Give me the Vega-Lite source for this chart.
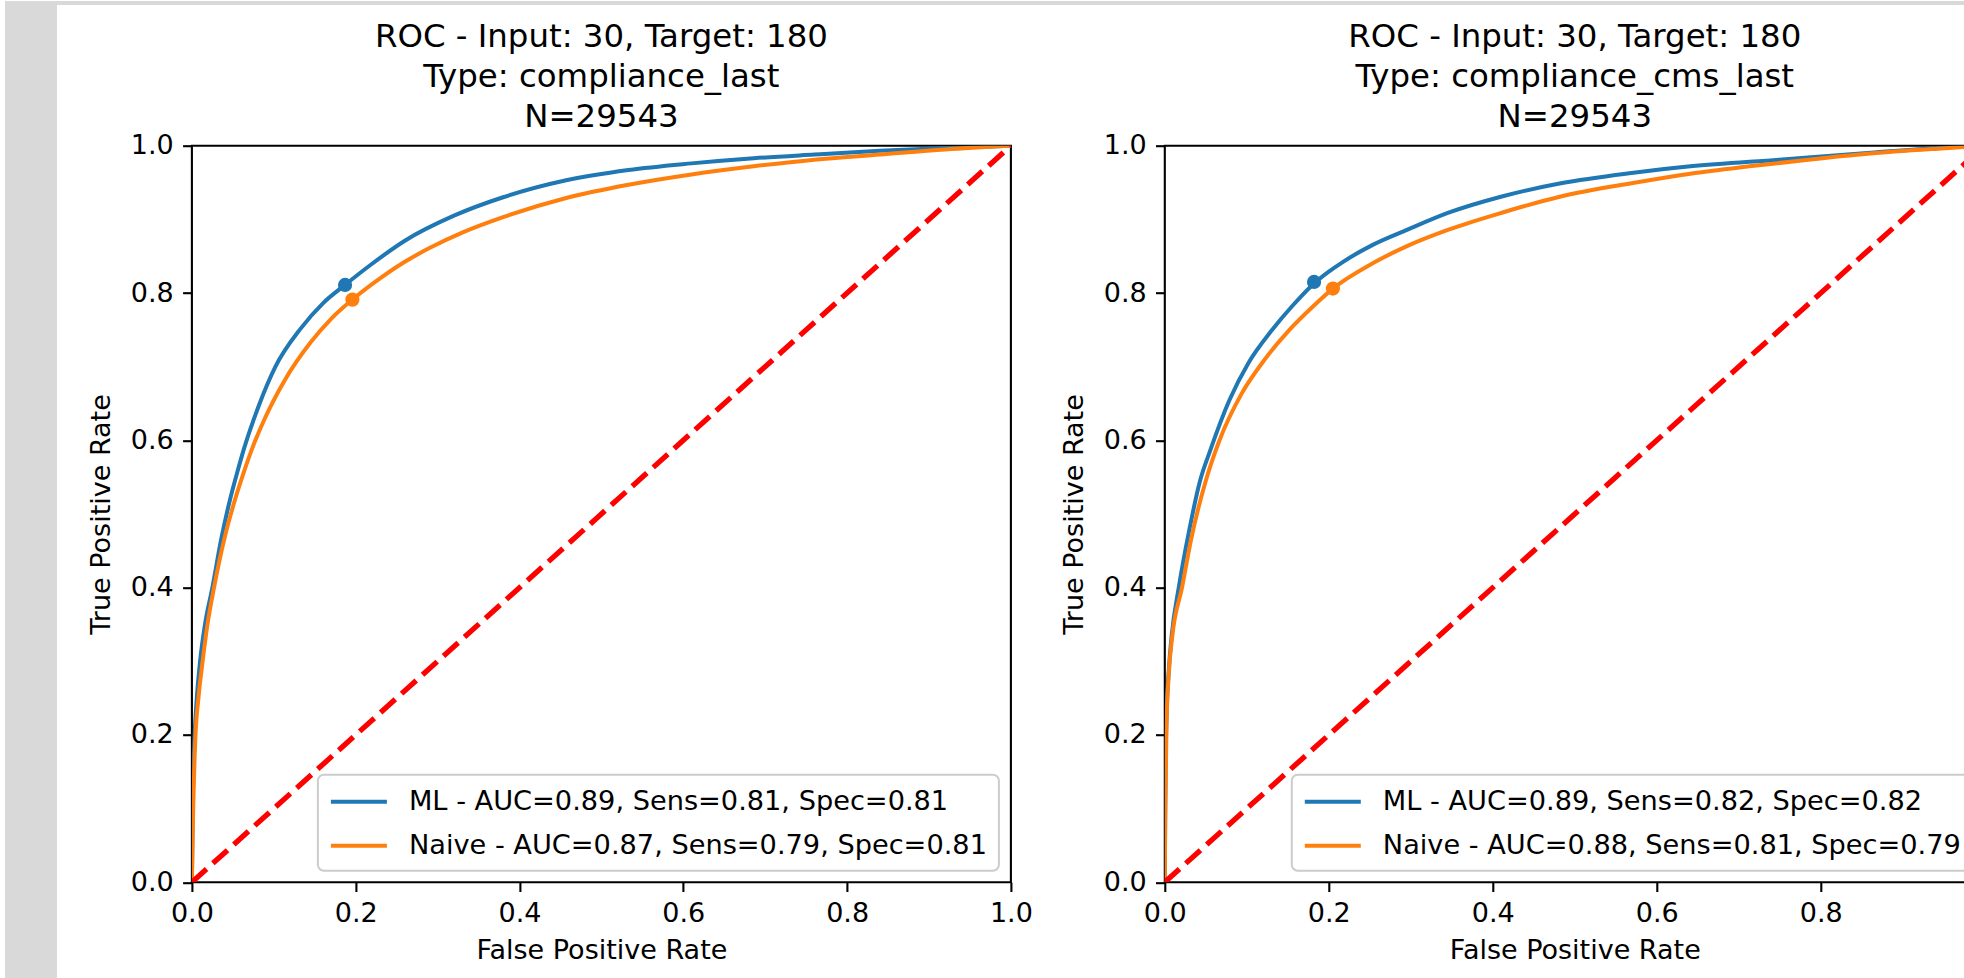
{
  "$schema": "https://vega.github.io/schema/vega-lite/v6.json",
  "padding": {"left": 5, "top": 0, "right": 0, "bottom": 0},
  "background": "white",
  "spacing": -6.5,
  "resolve": {"scale": {"color": "independent", "fill": "independent", "x": "independent", "y": "independent"}, "legend": {"color": "independent", "fill": "independent"}},
  "hconcat": [
    {
      "width": 52, "height": 978,
      "data": {"values": [{"a": 1}]},
      "mark": {"type": "point", "opacity": 0},
      "view": {"fill": "#d9d9d9", "stroke": null}
    },
    {
      "spacing": 13.7,
      "resolve": {"scale": {"color": "independent", "fill": "independent", "x": "independent", "y": "independent"}, "legend": {"color": "independent", "fill": "independent"}},
      "vconcat": [
        {
          "width": 1918, "height": 4,
          "data": {"values": [{"a": 1}]},
          "mark": {"type": "point", "opacity": 0},
          "view": {"fill": "#d9d9d9", "stroke": null}
        },
        {
          "spacing": 24.9,
          "resolve": {"scale": {"color": "independent", "fill": "independent", "x": "independent", "y": "independent"}, "legend": {"color": "independent", "fill": "independent"}},
          "hconcat": [
            {
              "width": 0.7, "height": 1,
              "data": {"values": [{"a": 1}]},
              "mark": {"type": "point", "opacity": 0},
              "view": {"fill": null, "stroke": null}
            },
            {
              "width": 819, "height": 736.5,
              "title": {"text": ["ROC - Input: 30, Target: 180", "Type: compliance_last", "N=29543"]},
              "encoding": {
                "x": {"field": "fpr", "type": "quantitative", "scale": {"domain": [0, 1], "nice": false}, "axis": {"title": "False Positive Rate", "values": [0, 0.2, 0.4, 0.6, 0.8, 1.0], "format": ".1f"}},
                "y": {"field": "tpr", "type": "quantitative", "scale": {"domain": [0, 1], "nice": false}, "axis": {"title": "True Positive Rate", "values": [0, 0.2, 0.4, 0.6, 0.8, 1.0], "format": ".1f"}}
              },
              "layer": [
                {
                  "data": {"name": "curves"},
                  "transform": [{"filter": "datum.p == 'L'"}],
                  "mark": {"type": "line", "strokeWidth": 4, "clip": true, "interpolate": "monotone"},
                  "encoding": {
                    "color": {"field": "m", "type": "nominal", "scale": {"domain": ["ML", "Naive"], "range": ["#1f77b4", "#ff7f0e"]},
                      "legend": {"labelExpr": "datum.label == 'ML' ? 'ML - AUC=0.89, Sens=0.81, Spec=0.81' : 'Naive - AUC=0.87, Sens=0.79, Spec=0.81'"}}
                  }
                },
                {
                  "data": {"name": "ops"},
                  "transform": [{"filter": "datum.p == 'L'"}],
                  "mark": {"type": "point", "filled": true, "size": 201, "opacity": 1},
                  "encoding": {
                    "fill": {"field": "m", "type": "nominal", "scale": {"domain": ["ML", "Naive"], "range": ["#1f77b4", "#ff7f0e"]}, "legend": null}
                  }
                },
                {
                  "data": {"name": "diag"},
                  "mark": {"type": "line", "color": "#ff0000", "strokeWidth": 5.3, "strokeDash": [19.7, 8.5], "clip": true},
                  "encoding": {}
                }
              ]
            },
            {
              "width": 820, "height": 736.5,
              "title": {"text": ["ROC - Input: 30, Target: 180", "Type: compliance_cms_last", "N=29543"]},
              "encoding": {
                "x": {"field": "fpr", "type": "quantitative", "scale": {"domain": [0, 1], "nice": false}, "axis": {"title": "False Positive Rate", "values": [0, 0.2, 0.4, 0.6, 0.8, 1.0], "format": ".1f"}},
                "y": {"field": "tpr", "type": "quantitative", "scale": {"domain": [0, 1], "nice": false}, "axis": {"title": "True Positive Rate", "values": [0, 0.2, 0.4, 0.6, 0.8, 1.0], "format": ".1f"}}
              },
              "layer": [
                {
                  "data": {"name": "curves"},
                  "transform": [{"filter": "datum.p == 'R'"}],
                  "mark": {"type": "line", "strokeWidth": 4, "clip": true, "interpolate": "monotone"},
                  "encoding": {
                    "color": {"field": "m", "type": "nominal", "scale": {"domain": ["ML", "Naive"], "range": ["#1f77b4", "#ff7f0e"]},
                      "legend": {"labelExpr": "datum.label == 'ML' ? 'ML - AUC=0.89, Sens=0.82, Spec=0.82' : 'Naive - AUC=0.88, Sens=0.81, Spec=0.79'"}}
                  }
                },
                {
                  "data": {"name": "ops"},
                  "transform": [{"filter": "datum.p == 'R'"}],
                  "mark": {"type": "point", "filled": true, "size": 201, "opacity": 1},
                  "encoding": {
                    "fill": {"field": "m", "type": "nominal", "scale": {"domain": ["ML", "Naive"], "range": ["#1f77b4", "#ff7f0e"]}, "legend": null}
                  }
                },
                {
                  "data": {"name": "diag"},
                  "mark": {"type": "line", "color": "#ff0000", "strokeWidth": 5.3, "strokeDash": [19.7, 8.5], "clip": true},
                  "encoding": {}
                }
              ]
            }
          ]
        }
      ]
    }
  ],
  "datasets": {
    "diag": [{"fpr": 0, "tpr": 0}, {"fpr": 1, "tpr": 1}],
    "ops": [
      {"p": "L", "m": "ML", "fpr": 0.187, "tpr": 0.811},
      {"p": "L", "m": "Naive", "fpr": 0.196, "tpr": 0.791},
      {"p": "R", "m": "ML", "fpr": 0.182, "tpr": 0.815},
      {"p": "R", "m": "Naive", "fpr": 0.205, "tpr": 0.806}
    ],
    "curves": [
      {"p": "L", "m": "ML", "fpr": 0, "tpr": 0},
      {"p": "L", "m": "ML", "fpr": 0.001, "tpr": 0.1},
      {"p": "L", "m": "ML", "fpr": 0.003, "tpr": 0.19},
      {"p": "L", "m": "ML", "fpr": 0.006, "tpr": 0.25},
      {"p": "L", "m": "ML", "fpr": 0.01, "tpr": 0.3},
      {"p": "L", "m": "ML", "fpr": 0.016, "tpr": 0.35},
      {"p": "L", "m": "ML", "fpr": 0.025, "tpr": 0.4},
      {"p": "L", "m": "ML", "fpr": 0.036, "tpr": 0.467},
      {"p": "L", "m": "ML", "fpr": 0.046, "tpr": 0.517},
      {"p": "L", "m": "ML", "fpr": 0.055, "tpr": 0.555},
      {"p": "L", "m": "ML", "fpr": 0.064, "tpr": 0.59},
      {"p": "L", "m": "ML", "fpr": 0.082, "tpr": 0.648},
      {"p": "L", "m": "ML", "fpr": 0.102, "tpr": 0.7},
      {"p": "L", "m": "ML", "fpr": 0.133, "tpr": 0.752},
      {"p": "L", "m": "ML", "fpr": 0.16, "tpr": 0.786},
      {"p": "L", "m": "ML", "fpr": 0.187, "tpr": 0.811},
      {"p": "L", "m": "ML", "fpr": 0.218, "tpr": 0.838},
      {"p": "L", "m": "ML", "fpr": 0.26, "tpr": 0.871},
      {"p": "L", "m": "ML", "fpr": 0.32, "tpr": 0.905},
      {"p": "L", "m": "ML", "fpr": 0.38, "tpr": 0.93},
      {"p": "L", "m": "ML", "fpr": 0.457, "tpr": 0.953},
      {"p": "L", "m": "ML", "fpr": 0.533, "tpr": 0.967},
      {"p": "L", "m": "ML", "fpr": 0.61, "tpr": 0.976},
      {"p": "L", "m": "ML", "fpr": 0.686, "tpr": 0.983},
      {"p": "L", "m": "ML", "fpr": 0.76, "tpr": 0.988},
      {"p": "L", "m": "ML", "fpr": 0.84, "tpr": 0.993},
      {"p": "L", "m": "ML", "fpr": 0.92, "tpr": 0.997},
      {"p": "L", "m": "ML", "fpr": 1, "tpr": 1},
      {"p": "L", "m": "Naive", "fpr": 0, "tpr": 0},
      {"p": "L", "m": "Naive", "fpr": 0.001, "tpr": 0.07},
      {"p": "L", "m": "Naive", "fpr": 0.004, "tpr": 0.19},
      {"p": "L", "m": "Naive", "fpr": 0.008, "tpr": 0.25},
      {"p": "L", "m": "Naive", "fpr": 0.012, "tpr": 0.29},
      {"p": "L", "m": "Naive", "fpr": 0.019, "tpr": 0.35},
      {"p": "L", "m": "Naive", "fpr": 0.027, "tpr": 0.4},
      {"p": "L", "m": "Naive", "fpr": 0.04, "tpr": 0.468},
      {"p": "L", "m": "Naive", "fpr": 0.052, "tpr": 0.517},
      {"p": "L", "m": "Naive", "fpr": 0.062, "tpr": 0.552},
      {"p": "L", "m": "Naive", "fpr": 0.074, "tpr": 0.59},
      {"p": "L", "m": "Naive", "fpr": 0.09, "tpr": 0.632},
      {"p": "L", "m": "Naive", "fpr": 0.1125, "tpr": 0.68},
      {"p": "L", "m": "Naive", "fpr": 0.145, "tpr": 0.733},
      {"p": "L", "m": "Naive", "fpr": 0.17, "tpr": 0.765},
      {"p": "L", "m": "Naive", "fpr": 0.196, "tpr": 0.791},
      {"p": "L", "m": "Naive", "fpr": 0.225, "tpr": 0.816},
      {"p": "L", "m": "Naive", "fpr": 0.258, "tpr": 0.841},
      {"p": "L", "m": "Naive", "fpr": 0.29, "tpr": 0.861},
      {"p": "L", "m": "Naive", "fpr": 0.33, "tpr": 0.882},
      {"p": "L", "m": "Naive", "fpr": 0.38, "tpr": 0.903},
      {"p": "L", "m": "Naive", "fpr": 0.457, "tpr": 0.929},
      {"p": "L", "m": "Naive", "fpr": 0.533, "tpr": 0.947},
      {"p": "L", "m": "Naive", "fpr": 0.61, "tpr": 0.961},
      {"p": "L", "m": "Naive", "fpr": 0.686, "tpr": 0.972},
      {"p": "L", "m": "Naive", "fpr": 0.76, "tpr": 0.981},
      {"p": "L", "m": "Naive", "fpr": 0.84, "tpr": 0.988},
      {"p": "L", "m": "Naive", "fpr": 0.92, "tpr": 0.995},
      {"p": "L", "m": "Naive", "fpr": 1, "tpr": 1},
      {"p": "R", "m": "ML", "fpr": 0, "tpr": 0},
      {"p": "R", "m": "ML", "fpr": 0.0005, "tpr": 0.1},
      {"p": "R", "m": "ML", "fpr": 0.002, "tpr": 0.22},
      {"p": "R", "m": "ML", "fpr": 0.005, "tpr": 0.29},
      {"p": "R", "m": "ML", "fpr": 0.0085, "tpr": 0.336},
      {"p": "R", "m": "ML", "fpr": 0.017, "tpr": 0.4},
      {"p": "R", "m": "ML", "fpr": 0.03, "tpr": 0.479},
      {"p": "R", "m": "ML", "fpr": 0.043, "tpr": 0.545},
      {"p": "R", "m": "ML", "fpr": 0.055, "tpr": 0.585},
      {"p": "R", "m": "ML", "fpr": 0.079, "tpr": 0.655},
      {"p": "R", "m": "ML", "fpr": 0.102, "tpr": 0.705},
      {"p": "R", "m": "ML", "fpr": 0.131, "tpr": 0.75},
      {"p": "R", "m": "ML", "fpr": 0.156, "tpr": 0.783},
      {"p": "R", "m": "ML", "fpr": 0.182, "tpr": 0.813},
      {"p": "R", "m": "ML", "fpr": 0.2, "tpr": 0.829},
      {"p": "R", "m": "ML", "fpr": 0.217, "tpr": 0.842},
      {"p": "R", "m": "ML", "fpr": 0.253, "tpr": 0.865},
      {"p": "R", "m": "ML", "fpr": 0.296, "tpr": 0.886},
      {"p": "R", "m": "ML", "fpr": 0.346, "tpr": 0.909},
      {"p": "R", "m": "ML", "fpr": 0.411, "tpr": 0.931},
      {"p": "R", "m": "ML", "fpr": 0.483, "tpr": 0.949},
      {"p": "R", "m": "ML", "fpr": 0.569, "tpr": 0.963},
      {"p": "R", "m": "ML", "fpr": 0.641, "tpr": 0.972},
      {"p": "R", "m": "ML", "fpr": 0.749, "tpr": 0.981},
      {"p": "R", "m": "ML", "fpr": 0.857, "tpr": 0.99},
      {"p": "R", "m": "ML", "fpr": 0.943, "tpr": 0.997},
      {"p": "R", "m": "ML", "fpr": 1, "tpr": 1},
      {"p": "R", "m": "Naive", "fpr": 0, "tpr": 0},
      {"p": "R", "m": "Naive", "fpr": 0.0005, "tpr": 0.08},
      {"p": "R", "m": "Naive", "fpr": 0.002, "tpr": 0.21},
      {"p": "R", "m": "Naive", "fpr": 0.005, "tpr": 0.285},
      {"p": "R", "m": "Naive", "fpr": 0.009, "tpr": 0.333},
      {"p": "R", "m": "Naive", "fpr": 0.021, "tpr": 0.4},
      {"p": "R", "m": "Naive", "fpr": 0.032, "tpr": 0.465},
      {"p": "R", "m": "Naive", "fpr": 0.05, "tpr": 0.545},
      {"p": "R", "m": "Naive", "fpr": 0.066, "tpr": 0.598},
      {"p": "R", "m": "Naive", "fpr": 0.093, "tpr": 0.662},
      {"p": "R", "m": "Naive", "fpr": 0.12, "tpr": 0.707},
      {"p": "R", "m": "Naive", "fpr": 0.152, "tpr": 0.75},
      {"p": "R", "m": "Naive", "fpr": 0.18, "tpr": 0.781},
      {"p": "R", "m": "Naive", "fpr": 0.205, "tpr": 0.806},
      {"p": "R", "m": "Naive", "fpr": 0.253, "tpr": 0.84},
      {"p": "R", "m": "Naive", "fpr": 0.296, "tpr": 0.864},
      {"p": "R", "m": "Naive", "fpr": 0.346, "tpr": 0.886},
      {"p": "R", "m": "Naive", "fpr": 0.411, "tpr": 0.909},
      {"p": "R", "m": "Naive", "fpr": 0.483, "tpr": 0.931},
      {"p": "R", "m": "Naive", "fpr": 0.569, "tpr": 0.949},
      {"p": "R", "m": "Naive", "fpr": 0.641, "tpr": 0.962},
      {"p": "R", "m": "Naive", "fpr": 0.713, "tpr": 0.972},
      {"p": "R", "m": "Naive", "fpr": 0.785, "tpr": 0.981},
      {"p": "R", "m": "Naive", "fpr": 0.857, "tpr": 0.989},
      {"p": "R", "m": "Naive", "fpr": 0.943, "tpr": 0.996},
      {"p": "R", "m": "Naive", "fpr": 1, "tpr": 1}
    ]
  },
  "config": {
    "font": "DejaVu Sans",
    "view": {"stroke": "#000000", "strokeWidth": 2.1},
    "title": {"font": "DejaVu Sans", "fontSize": 32.4, "lineHeight": 40, "fontWeight": "normal", "color": "#000000", "anchor": "middle", "frame": "group", "baseline": "bottom", "offset": -1.5},
    "axis": {
      "labelFont": "DejaVu Sans", "labelFontSize": 27, "labelColor": "#000000",
      "titleFont": "DejaVu Sans", "titleFontSize": 27, "titleFontWeight": "normal", "titleColor": "#000000",
      "tickColor": "#000000", "tickWidth": 2.1, "tickSize": 9.3, "labelPadding": 9.3,
      "domain": false, "grid": false, "labelFlush": false, "labelOverlap": false
    },
    "axisX": {"titlePadding": 11},
    "axisY": {"titlePadding": 14.8},
    "legend": {
      "orient": "bottom-right", "offset": 12, "title": null,
      "labelFont": "DejaVu Sans", "labelFontSize": 27.2, "labelColor": "#000000", "labelLimit": 1000,
      "symbolType": "M-1,0H3", "symbolSize": 784, "symbolStrokeWidth": 4,
      "labelOffset": 48, "rowPadding": 14, "padding": 11,
      "fillColor": "rgba(255,255,255,0.8)", "strokeColor": "#cccccc", "strokeWidth": 2, "cornerRadius": 6
    }
  }
}
